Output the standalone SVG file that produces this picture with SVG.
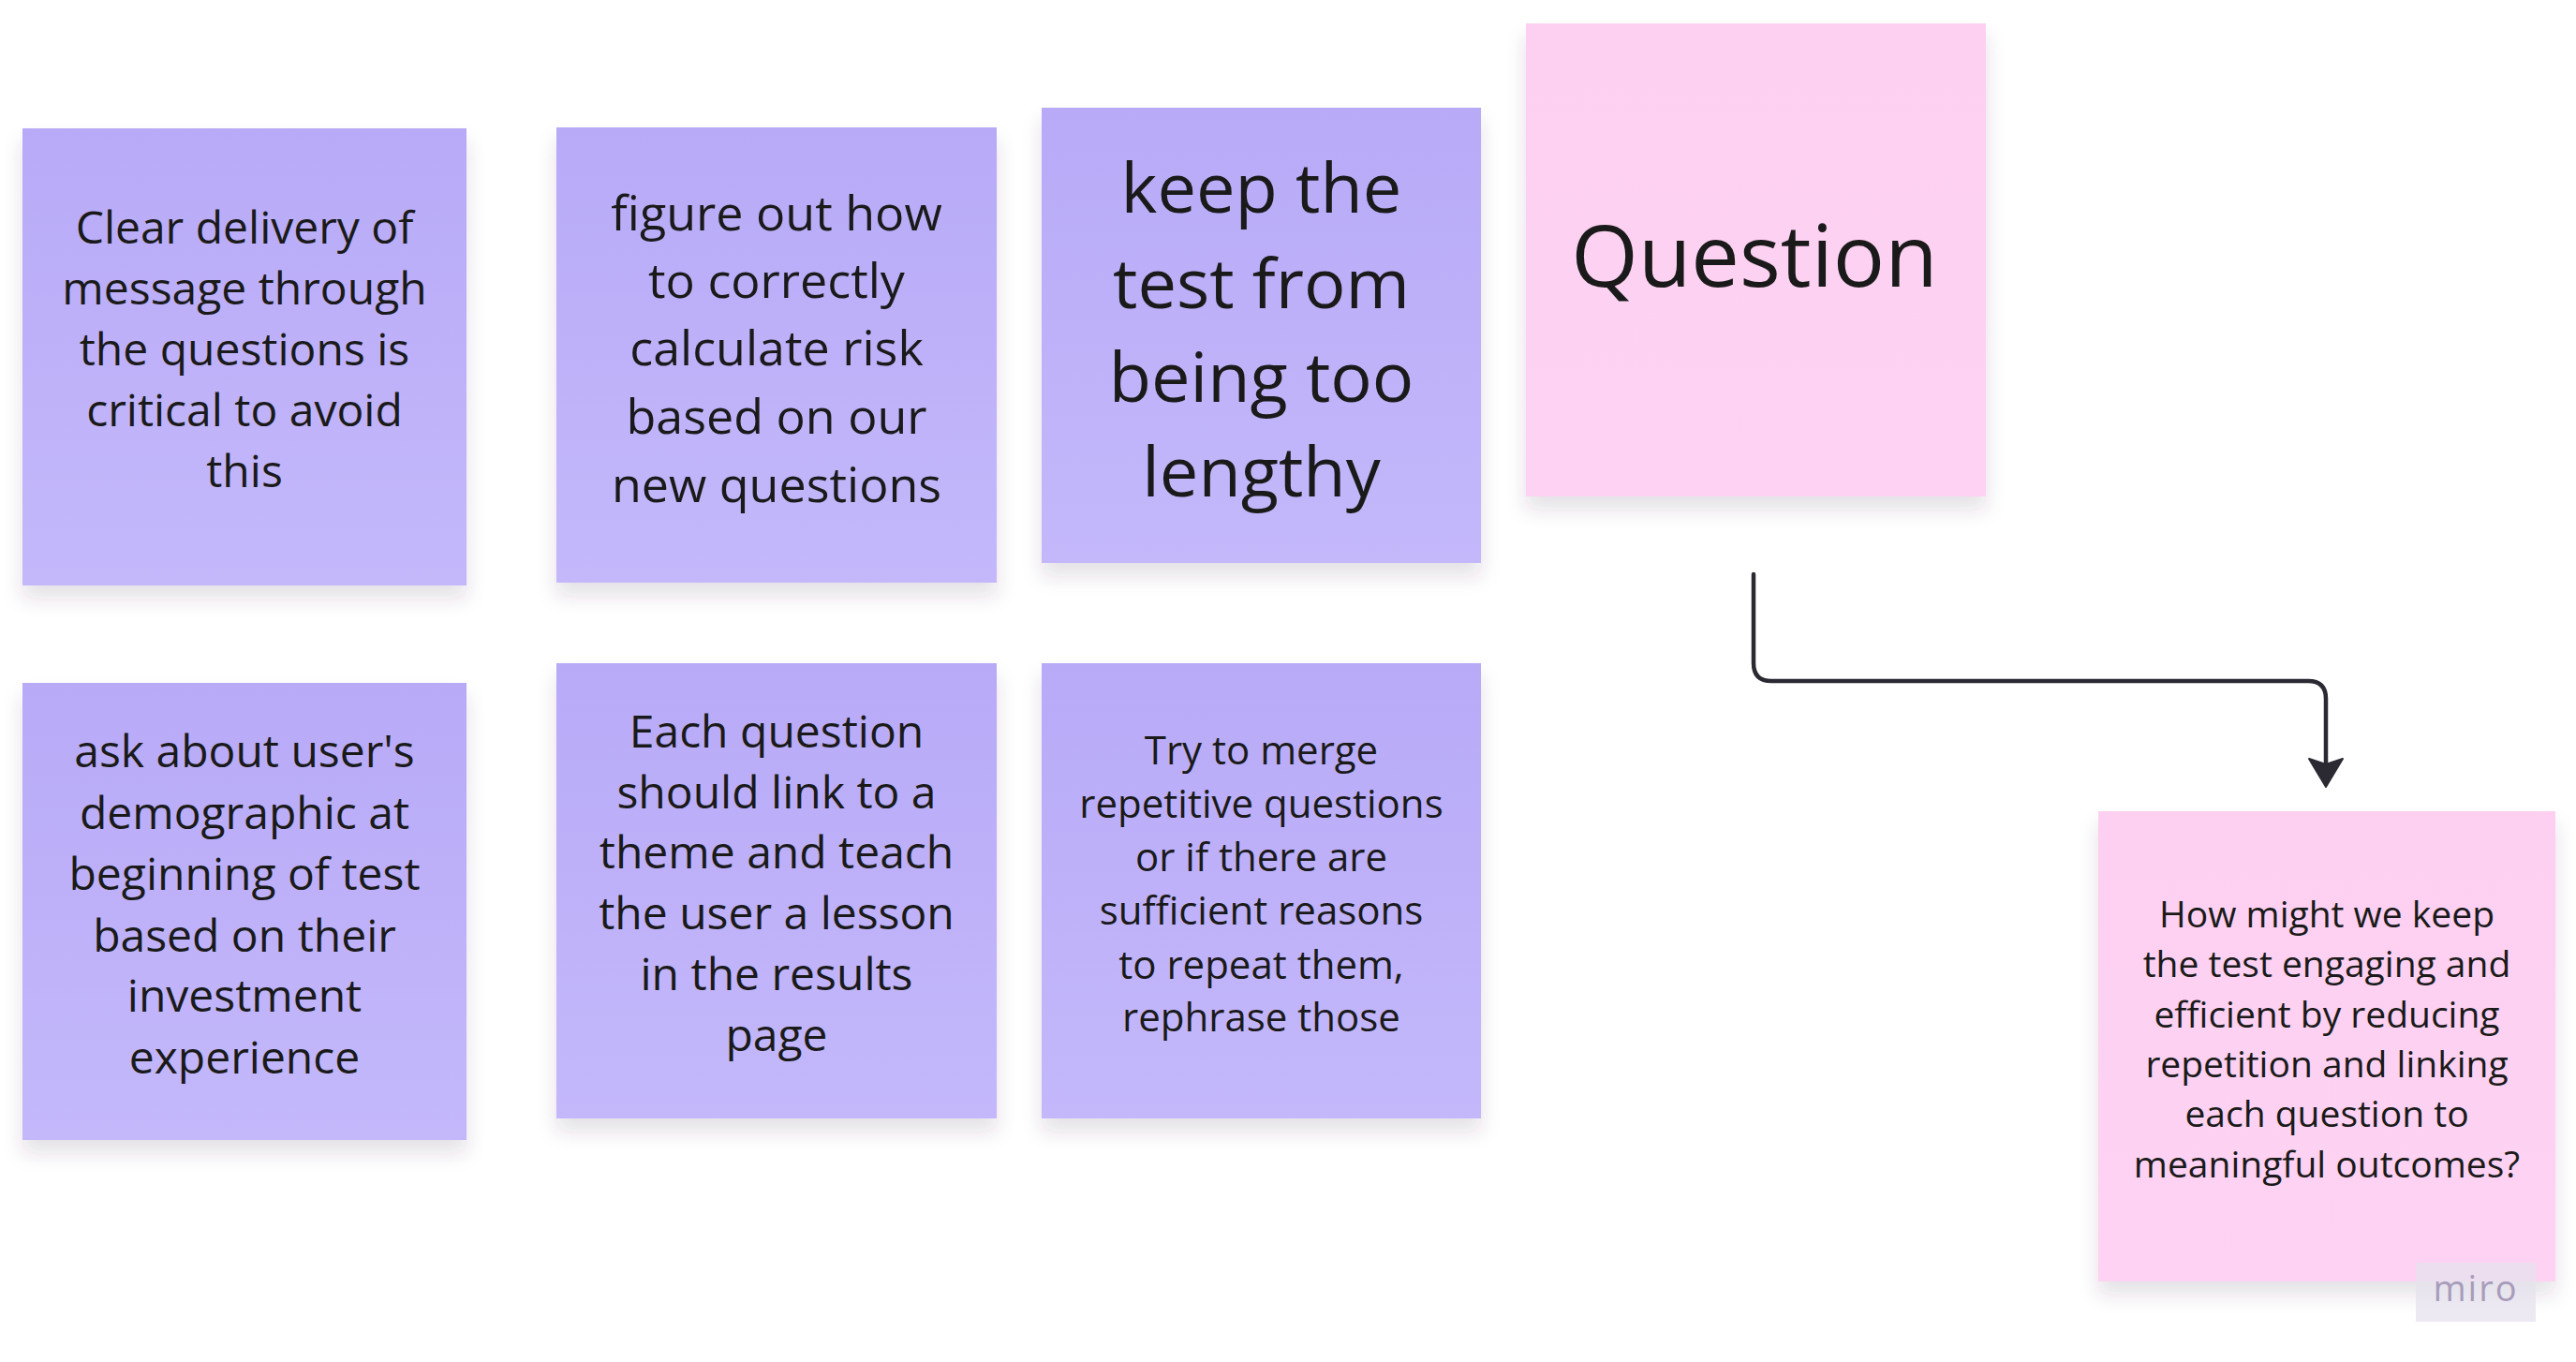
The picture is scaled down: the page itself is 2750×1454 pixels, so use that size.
<svg xmlns="http://www.w3.org/2000/svg" width="2750" height="1454" viewBox="0 0 2750 1454">
  <defs>
    <linearGradient id="gPurple" x1="0" y1="0" x2="0" y2="1">
      <stop offset="0" stop-color="#b8aaf7"/>
      <stop offset="1" stop-color="#c4b8fb"/>
    </linearGradient>
    <linearGradient id="gPink" x1="0" y1="0" x2="0" y2="1">
      <stop offset="0" stop-color="#fdd0f1"/>
      <stop offset="1" stop-color="#fdd2f2"/>
    </linearGradient>
    <filter id="sh" x="-15%" y="-10%" width="130%" height="130%">
      <feDropShadow dx="0" dy="14" stdDeviation="10" flood-color="#3a3050" flood-opacity="0.14"/>
    </filter>
    <marker id="arrow" markerUnits="userSpaceOnUse" markerWidth="40" markerHeight="40" viewBox="-2 -20 34 40" refX="6" refY="0" orient="auto" overflow="visible">
      <path d="M0,-18 L30,0 L0,18 L6,0 Z" fill="#2b2a33" stroke="#2b2a33" stroke-width="2" stroke-linejoin="round"/>
    </marker>
  </defs>
  <style>
    .p { fill: url(#gPurple); filter: url(#sh); }
    .k { fill: url(#gPink); filter: url(#sh); }
    text { font-family: "Open Sans", "Noto Sans", "Liberation Sans", sans-serif; fill: #1a1a1a; text-anchor: middle; }
    .f48 { font-size: 48px; }
    .f52 { font-size: 52px; }
    .f74 { font-size: 74px; }
    .f92 { font-size: 92px; }
    .f42 { font-size: 42px; }
    .f39 { font-size: 39px; }
    .conn { fill: none; stroke: #2b2a33; stroke-width: 4.5; stroke-linecap: round; stroke-linejoin: round; }
  </style>
  <rect width="2750" height="1454" fill="#ffffff"/>

  <g id="connectors">
    <path class="conn" d="M1872,613 V708 Q1872,727 1891,727 H2464 Q2483,727 2483,746 V816" marker-end="url(#arrow)"/>
  </g>

  <g id="note-clear-delivery">
    <rect class="p" x="24" y="137" width="474" height="488"/>
    <text class="f48" x="261" y="260">Clear delivery of</text>
    <text class="f48" x="261" y="325">message through</text>
    <text class="f48" x="261" y="390">the questions is</text>
    <text class="f48" x="261" y="455">critical to avoid</text>
    <text class="f48" x="261" y="520">this</text>
  </g>

  <g id="note-figure-out">
    <rect class="p" x="594" y="136" width="470" height="486"/>
    <text class="f52" x="829" y="246">figure out how</text>
    <text class="f52" x="829" y="318">to correctly</text>
    <text class="f52" x="829" y="390">calculate risk</text>
    <text class="f52" x="829" y="463">based on our</text>
    <text class="f52" x="829" y="536">new questions</text>
  </g>

  <g id="note-keep-test">
    <rect class="p" x="1112" y="115" width="469" height="486"/>
    <text class="f74" x="1346.5" y="227">keep the</text>
    <text class="f74" x="1346.5" y="329">test from</text>
    <text class="f74" x="1346.5" y="429">being too</text>
    <text class="f74" x="1346.5" y="530">lengthy</text>
  </g>

  <g id="note-question">
    <rect class="k" x="1629" y="25" width="491" height="505"/>
    <text class="f92" x="1873" y="306">Question</text>
  </g>

  <g id="note-ask-about">
    <rect class="p" x="24" y="729" width="474" height="488"/>
    <text class="f48" x="261" y="819">ask about user's</text>
    <text class="f48" x="261" y="885">demographic at</text>
    <text class="f48" x="261" y="950">beginning of test</text>
    <text class="f48" x="261" y="1016">based on their</text>
    <text class="f48" x="261" y="1080">investment</text>
    <text class="f48" x="261" y="1146">experience</text>
  </g>

  <g id="note-each-question">
    <rect class="p" x="594" y="708" width="470" height="486"/>
    <text class="f48" x="829" y="798">Each question</text>
    <text class="f48" x="829" y="863">should link to a</text>
    <text class="f48" x="829" y="927">theme and teach</text>
    <text class="f48" x="829" y="992">the user a lesson</text>
    <text class="f48" x="829" y="1057">in the results</text>
    <text class="f48" x="829" y="1122">page</text>
  </g>

  <g id="note-try-merge">
    <rect class="p" x="1112" y="708" width="469" height="486"/>
    <text class="f42" x="1346.5" y="816">Try to merge</text>
    <text class="f42" x="1346.5" y="873">repetitive questions</text>
    <text class="f42" x="1346.5" y="930">or if there are</text>
    <text class="f42" x="1346.5" y="987">sufficient reasons</text>
    <text class="f42" x="1346.5" y="1045">to repeat them,</text>
    <text class="f42" x="1346.5" y="1101">rephrase those</text>
  </g>

  <g id="note-how-might-we">
    <rect class="k" x="2240" y="866" width="488" height="502"/>
    <text class="f39" x="2484" y="990">How might we keep</text>
    <text class="f39" x="2484" y="1043">the test engaging and</text>
    <text class="f39" x="2484" y="1097">efficient by reducing</text>
    <text class="f39" x="2484" y="1150">repetition and linking</text>
    <text class="f39" x="2484" y="1203">each question to</text>
    <text class="f39" x="2484" y="1257">meaningful outcomes?</text>
  </g>

  <g id="watermark">
    <rect x="2579" y="1348" width="128" height="63" fill="#e6e2ee" opacity="0.75"/>
    <text x="2643" y="1389" style="font-size:38px; fill:#a89cbb; letter-spacing:2px;">miro</text>
  </g>
</svg>
